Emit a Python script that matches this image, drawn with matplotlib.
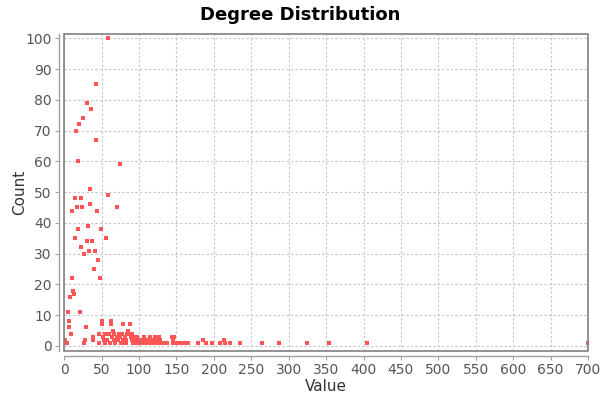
import matplotlib
matplotlib.use("Agg")
import numpy as np
from matplotlib import pyplot as plt
from matplotlib.patches import Rectangle

# degree value -> how many nodes have it
degree = [0, 1, 2, 4, 5, 6, 7, 8, 9,
          10, 11, 12, 13, 14, 15, 16, 17, 18, 19,
          20, 21, 22, 23, 24, 25, 26, 27, 28, 29,
          30, 31, 32, 33, 34, 35, 36, 37, 38, 39,
          40, 41, 42, 43, 44, 45, 46, 47, 48, 49,
          50, 51, 52, 53, 54, 55, 56, 57, 58, 59,
          60, 61, 62, 63, 64, 65, 66, 67, 68, 69,
          70, 71, 72, 73, 74, 75, 76, 77, 78, 79,
          80, 81, 82, 83, 84, 85, 86, 87, 88, 89,
          90, 91, 92, 93, 94, 95, 96, 97, 98, 99,
          100, 101, 102, 104, 105, 106, 107, 108, 110, 111,
          113, 115, 116, 118, 119, 121, 122, 124, 126, 127,
          128, 130, 132, 134, 137, 144, 145, 146, 147, 149,
          150, 153, 156, 160, 166, 179, 185, 190, 197, 208,
          214, 215, 222, 235, 265, 287, 325, 354, 405, 700]
count = [1, 2, 1, 1, 11, 8, 6, 16, 4,
         22, 44, 18, 17, 35, 48, 70, 45, 38, 60,
         72, 11, 48, 32, 45, 74, 1, 30, 2, 6,
         79, 34, 39, 31, 51, 46, 77, 34, 2, 3,
         25, 31, 85, 67, 44, 28, 1, 4, 22, 38,
         8, 7, 3, 2, 1, 4, 35, 2, 100, 49,
         4, 1, 7, 8, 3, 5, 2, 4, 1, 2,
         3, 45, 2, 4, 59, 3, 1, 4, 2, 7,
         1, 3, 2, 1, 4, 5, 4, 4, 7, 3,
         4, 2, 1, 3, 2, 1, 2, 3, 2, 1,
         2, 1, 1, 1, 2, 3, 1, 1, 2, 1,
         1, 3, 2, 1, 1, 2, 3, 1, 2, 3,
         2, 1, 1, 1, 1, 3, 2, 1, 3, 1,
         1, 1, 1, 1, 1, 1, 2, 1, 1, 1,
         2, 1, 1, 1, 1, 1, 1, 1, 1, 1]

x_ticks = np.arange(0, 701, 50)
y_ticks = np.arange(0, 101, 10)


def main():
    fig = plt.figure(figsize=(6, 4), dpi=100)
    ax = fig.add_axes([0.107, 0.123, 0.873, 0.792])

    ax.scatter(degree, count, s=10, marker="s", color="#ff5555", linewidths=0, zorder=3)

    ax.set_xlim(0, 700)
    ax.set_ylim(-1.6, 101.4)
    ax.set_xticks(x_ticks)
    ax.set_yticks(y_ticks)
    ax.grid(True, color="#c4c4c4", linestyle=(0, (2, 2)), linewidth=0.8)
    ax.set_axisbelow(True)

    # axis lines sit a few pixels away from the plot frame
    ax.spines["top"].set_visible(False)
    ax.spines["right"].set_visible(False)
    for name in ("left", "bottom"):
        ax.spines[name].set_position(("outward", 4))
        ax.spines[name].set_color("#a0a0a0")
        ax.spines[name].set_linewidth(1.0)
    ax.add_patch(Rectangle((0, 0), 1, 1, transform=ax.transAxes, fill=False,
                           edgecolor="#808080", linewidth=1.2, zorder=4, clip_on=False))

    ax.tick_params(colors="#a0a0a0", labelcolor="#555555", labelsize=10, length=3, pad=2)

    fig.text(0.5, 0.962, "Degree Distribution", ha="center", va="center",
             fontsize=13, fontweight="bold", color="black")
    ax.set_xlabel("Value", fontsize=11, color="#333333", labelpad=1)
    ax.set_ylabel("Count", fontsize=11, color="#333333", labelpad=-1)

    fig.savefig("out.png", dpi=100)


if __name__ == "__main__":
    main()
